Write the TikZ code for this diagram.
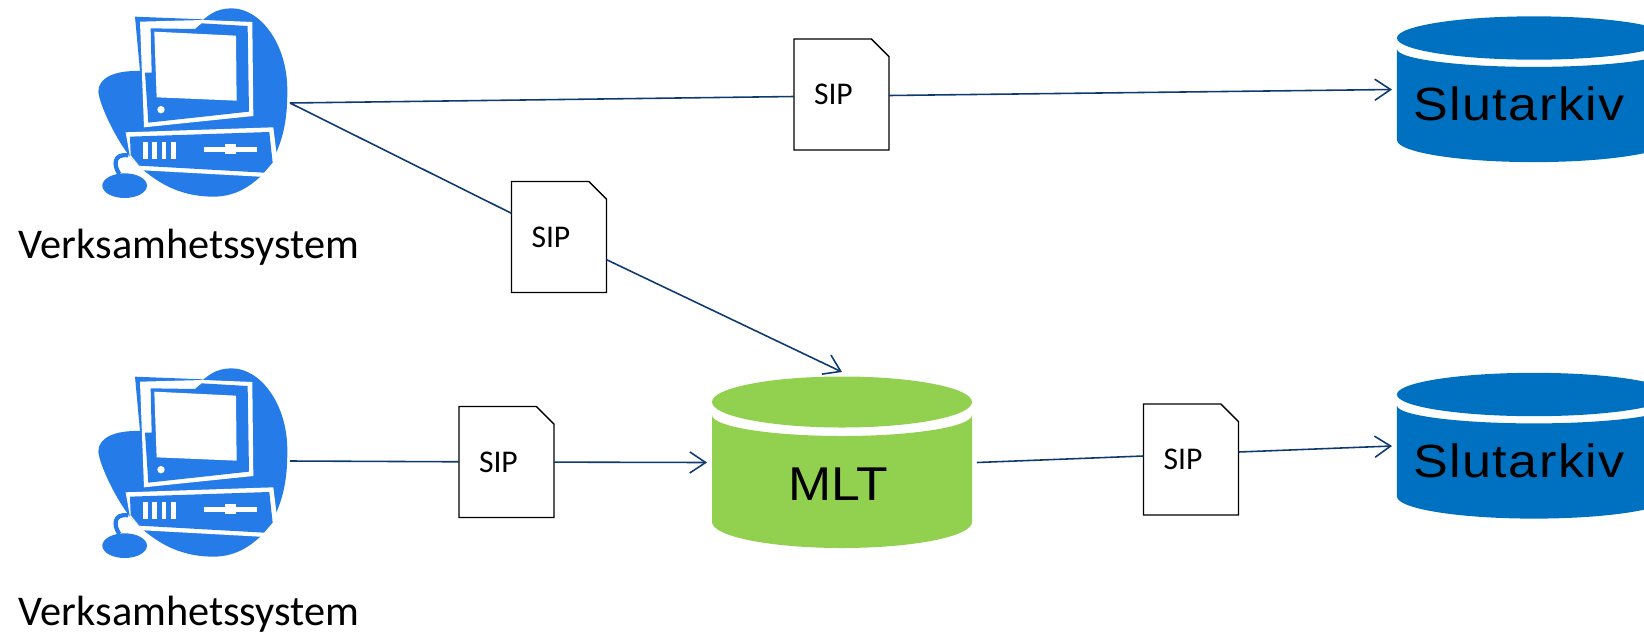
\documentclass[tikz,border=0pt]{standalone}
\usepackage{fontspec}
\setmainfont{Carlito}
\newfontfamily\tankfont[FakeStretch=1.12,LetterSpace=3.2]{Liberation Sans}
\newfontfamily\mltfont[FakeStretch=1.09]{Liberation Sans}
\usetikzlibrary{arrows.meta,shapes.misc}
\definecolor{pcblue}{HTML}{257CE9}
\definecolor{slutblue}{HTML}{0070C0}
\definecolor{mltgreen}{HTML}{92D050}
\definecolor{linkblue}{HTML}{0F3A70}
\tikzset{
  link/.style={draw=linkblue,line width=.9pt},
  tip/.style={link,-{Straight Barb[length=9pt,width=12pt]}},
  sipbox/.style={chamfered rectangle,chamfered rectangle corners=north east,
    chamfered rectangle xsep=.19cm,chamfered rectangle ysep=.16cm,
    draw=black,fill=white,line width=.8pt,outer sep=0pt,
    text width=1.1cm,inner xsep=.21cm,minimum height=2.22cm,align=left,
    font=\fontsize{18}{20}\selectfont},
  tanktext/.style={inner sep=0pt,outer sep=.1cm,text depth=0pt},
  pclabel/.style={font=\fontsize{24.1}{28}\selectfont},
  tank/.pic={
    \path[pic actions] (0,0) circle[x radius=130,y radius=25.5];
    \path[pic actions] (-130,13) arc[start angle=180,end angle=0,x radius=130,y radius=21]
          -- (130,120) arc[start angle=0,end angle=180,x radius=130,y radius=26] -- cycle;
  },
  pcicon/.pic={
    \begin{scope}[scale=.3333]
    \fill[pcblue] (185,213) .. controls (100,210) and (55,235) .. (55,275)
       .. controls (60,320) and (110,420) .. (150,470) -- (190,510)
       .. controls (260,570) and (330,590) .. (400,590)
       .. controls (470,590) and (520,555) .. (560,510)
       .. controls (620,420) and (622,330) .. (622,270)
       .. controls (622,130) and (540,25) .. (455,25)
       .. controls (410,25) and (380,45) .. (350,80) -- cycle;
    \fill[pcblue] (165,50) -- (368,58) -- (370,75) -- (190,216) -- (180,213) -- cycle;
    \fill[white] (180,65) -- (370,60) -- (517,66) -- (520,348) -- (192,382) -- cycle;
    \fill[pcblue] (212,85) -- (345,87) -- (365,70) -- (503,78) -- (507,335) -- (205,368)
       -- (195,218) -- (215,218) -- cycle;
    \fill[white] (223,95) -- (468,107) -- (470,302) -- (230,292) -- cycle;
    \fill[white] (243,329) circle (11);
    \draw[pcblue,line width=2.4pt] (145,466) .. controls (100,460) and (100,495) .. (118,522);
    \fill[pcblue] (134,557) circle[x radius=67,y radius=37];
    \fill[white] (137,397) -- (580,382) -- (590,462) -- (557,531) -- (190,511) -- (150,470) -- cycle;
    \fill[pcblue] (150,410) -- (568,396) -- (578,488) -- (552,518) -- (195,498) -- (178,497) -- (152,465) -- cycle;
    \foreach \slot in {189,217,245,274}
      \fill[white] (\slot,425) rectangle +(14,53);
    \fill[white] (371,441) rectangle (531,455);
    \fill[white] (435,431) rectangle (467,463);
    \end{scope}
  }
}
\begin{document}
\begin{tikzpicture}[x=.02cm,y=-.02cm]
  \clip (0,0) rectangle (1644,633);
  % clients
  \pic at (80,0) {pcicon};
  \pic at (80,360) {pcicon};
  \node[pclabel] at (189,247) (pcatext) {Verksamhetssystem};
  \node[pclabel] at (189,614) (pcbtext) {Verksamhetssystem};
  \coordinate (pcaout) at (290,103);
  \coordinate (pcbout) at (290,461);
  % archives
  \pic[fill=slutblue,xscale=1.054,yscale=.85] at (1534,38) {tank};
  \pic[fill=slutblue,xscale=1.054,yscale=.85] at (1534,394.5) {tank};
  \pic[fill=mltgreen] at (842,402) {tank};
  \node[tanktext,font=\fontsize{26.5}{30}\tankfont,minimum width=4.88cm,minimum height=2.9cm,text height=35.8pt] at (1519,89.5) (sluta) {Slutarkiv};
  \node[tanktext,font=\fontsize{26.5}{30}\tankfont,minimum width=4.88cm,minimum height=2.9cm,text height=35.8pt] at (1519,446) (slutb) {Slutarkiv};
  \node[tanktext,font=\fontsize{27}{30}\mltfont,minimum width=5.2cm,minimum height=3.42cm,text height=42.7pt] at (838,462.5) (mlt) {MLT};
  % packages
  \node[sipbox] at (841.5,94.5) (sipa) {SIP};
  \node[sipbox] at (559,237) (sipb) {SIP};
  \node[sipbox] at (506.5,462) (sipc) {SIP};
  \node[sipbox] at (1191,459.5) (sipd) {SIP};
  \path[link] (pcaout) -- ([yshift=-.04cm]sipa.west);
  \path[tip] ([yshift=-.02cm]sipa.east) -- (sluta.west);
  \path[link] (pcaout) -- (sipb);
  \path[tip] (sipb) -- ([xshift=.08cm]mlt.north);
  \path[link] (pcbout) -- (sipc);
  \path[tip] (sipc) -- ([xshift=.08cm]mlt.west);
  \path[link] ([xshift=.08cm]mlt.east) -- ([yshift=.07cm]sipd.west);
  \path[tip] ([yshift=.15cm]sipd.east) -- (slutb.west);
\end{tikzpicture}
\end{document}
